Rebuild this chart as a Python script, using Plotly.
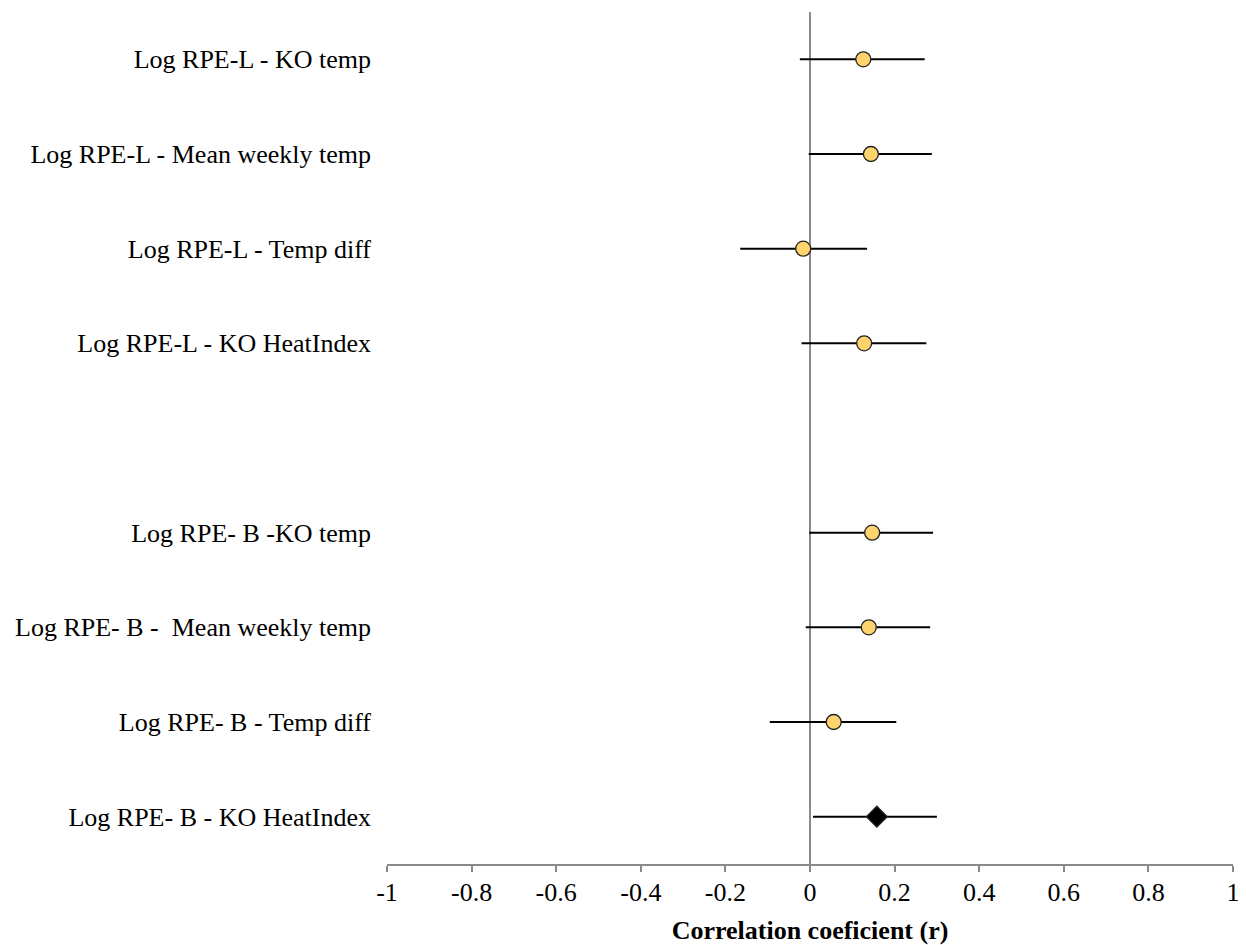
import plotly.graph_objects as go

labels = [
    "Log RPE-L - KO temp",
    "Log RPE-L - Mean weekly temp",
    "Log RPE-L - Temp diff",
    "Log RPE-L - KO HeatIndex",
    "Log RPE- B -KO temp",
    "Log RPE- B - \u00a0Mean weekly temp",
    "Log RPE- B - Temp diff",
    "Log RPE- B - KO HeatIndex",
]
slots = [0, 1, 2, 3, 5, 6, 7, 8]
r_values = [0.126, 0.144, -0.016, 0.128, 0.147, 0.139, 0.056, 0.158]
ci_lower = [-0.024, -0.003, -0.165, -0.020, -0.002, -0.010, -0.095, 0.007]
ci_upper = [0.271, 0.288, 0.135, 0.275, 0.291, 0.284, 0.204, 0.300]
symbols = ["circle"] * 7 + ["diamond"]
fill_colors = ["#FFD36E"] * 7 + ["#000000"]
sizes = [15] * 7 + [16]

x_ticks = [-1, -0.8, -0.6, -0.4, -0.2, 0, 0.2, 0.4, 0.6, 0.8, 1]
x_tick_text = ["-1", "-0.8", "-0.6", "-0.4", "-0.2", "0", "0.2", "0.4", "0.6", "0.8", "1"]

err_plus = [u - r for u, r in zip(ci_upper, r_values)]
err_minus = [r - l for r, l in zip(r_values, ci_lower)]

fig = go.Figure()
fig.add_trace(go.Scatter(
    x=r_values, y=slots, mode="markers",
    marker=dict(symbol=symbols, color=fill_colors, size=sizes, opacity=1,
                line=dict(color="#222222", width=1.3)),
    error_x=dict(type="data", array=err_plus, arrayminus=err_minus,
                 symmetric=False, color="#000000", thickness=2, width=0),
    showlegend=False, hoverinfo="skip",
))

font_family = "Liberation Serif"
fig.update_layout(
    width=1238, height=937,
    margin=dict(l=379, r=13, t=4, b=81, autoexpand=False),
    paper_bgcolor="white", plot_bgcolor="white",
    font=dict(family=font_family, size=26, color="#000000"),
    xaxis=dict(
        range=[-1, 1], tickvals=x_ticks, ticktext=x_tick_text,
        automargin=False,
        showgrid=False, showline=True, linecolor="#8a8a8a", linewidth=2,
        ticks="outside", ticklen=6, tickwidth=2, tickcolor="#8a8a8a",
        zeroline=True, zerolinecolor="#8a8a8a", zerolinewidth=2,
        ticklabelstandoff=-2,
        tickfont=dict(family=font_family, size=26),
        title=dict(text="<b>Correlation coeficient (r)</b>", standoff=16,
                   font=dict(family=font_family, size=26)),
    ),
    yaxis=dict(
        range=[8.5, -0.5], tickvals=slots, ticktext=labels,
        automargin=False,
        showgrid=False, showline=False, zeroline=False, ticks="",
        ticklabelstandoff=15,
        tickfont=dict(family=font_family, size=26),
    ),
)

fig.write_html("out.html")
